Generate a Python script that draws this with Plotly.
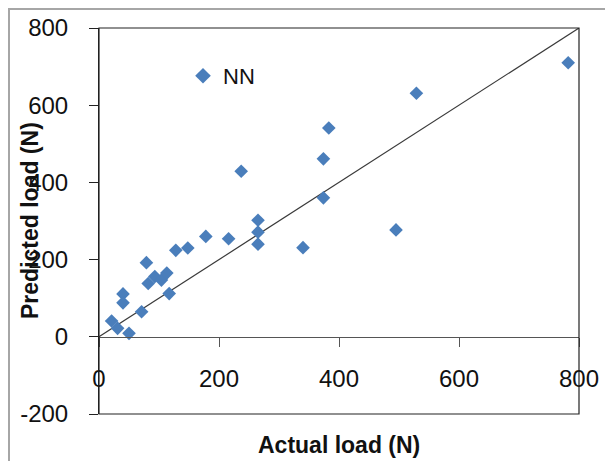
import plotly.graph_objects as go

# Data
actual_load = [782, 529, 383, 374, 374, 237, 495, 340, 265, 265, 265, 216, 178, 148,
               128, 79, 82, 93, 104, 113, 117, 71, 40, 40, 21, 31, 50]
predicted_load = [710, 631, 541, 461, 360, 429, 277, 231, 302, 271, 240, 254, 260, 230,
                  224, 192, 138, 156, 147, 165, 112, 65, 111, 88, 41, 22, 9]
ideal_x = [0, 800]
ideal_y = [0, 800]
x_ticks = [0, 200, 400, 600, 800]
x_tick_labels = ["0", "200", "400", "600", "800"]
y_ticks = [-200, 0, 200, 400, 600, 800]
y_tick_labels = ["-200", "0", "200", "400", "600", "800"]

W, H = 605, 461
L, R, T, B = 99, 26, 28, 47
plot_w = W - L - R
plot_h = H - T - B

fig = go.Figure()
fig.add_trace(go.Scatter(
    x=ideal_x, y=ideal_y, mode="lines",
    line=dict(color="#3a3a3a", width=1.2),
    showlegend=False, hoverinfo="skip",
))
fig.add_trace(go.Scatter(
    x=actual_load, y=predicted_load, mode="markers", name="NN",
    marker=dict(symbol="diamond", size=10.5, color="#4A7EBB"),
))

font_family = "Liberation Sans, Arial, sans-serif"

fig.update_layout(
    width=W, height=H,
    margin=dict(l=L, r=R, t=T, b=B, pad=0, autoexpand=False),
    paper_bgcolor="white", plot_bgcolor="white",
    font=dict(family=font_family, size=24, color="#111111"),
    showlegend=True,
    legend=dict(
        x=(183 - L) / plot_w, xanchor="left",
        y=(H - B - 76) / plot_h, yanchor="middle",
        bgcolor="rgba(0,0,0,0)", borderwidth=0,
        font=dict(size=22, family=font_family, color="#111111"),
        itemsizing="constant",
    ),
    xaxis=dict(
        range=[0, 800], tickvals=x_ticks, ticktext=x_tick_labels,
        anchor="free", position=0.2, automargin=False,
        showline=True, linecolor="#555555", linewidth=1,
        ticks="outside", ticklen=9, tickcolor="#555555", tickwidth=1,
        showgrid=False, zeroline=False,
        ticklabelstandoff=11,
        tickfont=dict(size=24),
        title=None,
    ),
    yaxis=dict(
        range=[-200, 800], tickvals=y_ticks, ticktext=y_tick_labels,
        automargin=False,
        showline=True, linecolor="#222222", linewidth=1,
        ticks="outside", ticklen=9, tickcolor="#222222", tickwidth=1,
        showgrid=False, zeroline=False,
        ticklabelstandoff=16,
        tickfont=dict(size=24),
        title=None,
    ),
    shapes=[
        # plot area frame
        dict(type="rect", xref="paper", yref="paper", x0=0, x1=1, y0=0, y1=1,
             line=dict(color="#222222", width=1.2), layer="above"),
        # outer chart border
        dict(type="rect", xref="paper", yref="paper",
             x0=(9 - L) / plot_w, x1=2.0,
             y0=-1.0, y1=(H - B - 9) / plot_h,
             line=dict(color="#A6A6A6", width=2)),
    ],
    annotations=[
        dict(text="<b>Actual load (N)</b>", xref="paper", yref="paper",
             x=0.5, y=(H - B - 445) / plot_h, xanchor="center", yanchor="middle",
             showarrow=False, font=dict(size=23, family=font_family, color="#111111")),
        dict(text="<b>Predicted load (N)</b>", xref="paper", yref="paper",
             x=(30 - L) / plot_w, y=0.5, xanchor="center", yanchor="middle",
             textangle=-90,
             showarrow=False, font=dict(size=23, family=font_family, color="#111111")),
    ],
)

fig.write_html(
    "out.html",
    config={"displayModeBar": False},
    post_script="document.body.style.margin='0';document.body.style.overflow='hidden';",
)
